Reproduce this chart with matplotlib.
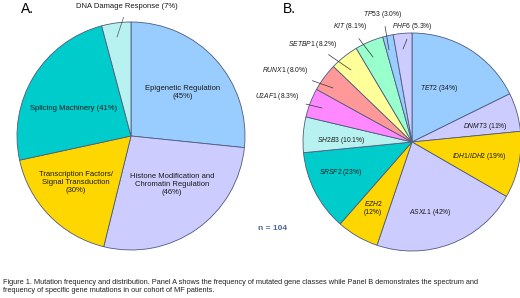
import matplotlib
matplotlib.use("Agg")
import matplotlib.pyplot as plt

plt.rcParams['font.family'] = ['Liberation Sans', 'DejaVu Sans']
plt.rcParams['mathtext.fontset'] = 'custom'
plt.rcParams['mathtext.it'] = 'Liberation Sans:italic'
plt.rcParams['mathtext.rm'] = 'Liberation Sans'

# Panel A: gene classes (number of patients)
class_names = ['Epigenetic Regulation\n(45%)',
               'Histone Modification and\nChromatin Regulation\n(46%)',
               'Transcription Factors/\nSignal Transduction\n(30%)',
               'Splicing Machinery (41%)',
               'DNA Damage Response (7%)']
class_values = [45, 46, 30, 41, 7]
class_colors = ['#99CCFF', '#CCCCFF', '#FFD700', '#00CCCC', '#B8F2F0']

# Panel B: individual genes
gene_names = ['TET2', 'DNMT3', 'IDH1/IDH2', 'ASXL1', 'EZH2', 'SRSF2', 'SH2B3',
              'U2AF1', 'RUNX1', 'SETBP1', 'KIT', 'TP53', 'PHF6']
gene_values = [34, 11, 19, 42, 12, 23, 10.1, 8.3, 8.0, 8.2, 8.1, 3.0, 5.3]
gene_pct = ['34%', '11%', '19%', '42%', '12%', '23%', '10.1%',
            '8.3%', '8.0%', '8.2%', '8.1%', '3.0%', '5.3%']
gene_colors = ['#99CCFF', '#CCCCFF', '#FFD700', '#CCCCFF', '#FFD700', '#00CCCC',
               '#B8F2F0', '#FF88FF', '#FF9999', '#FFFF99', '#99FFCC', '#99CCFF',
               '#CCCCFF']

W, H = 520, 298
fig = plt.figure(figsize=(W / 100, H / 100), dpi=100)


def px_axes(cx, cy, r):
    return fig.add_axes([(cx - r) / W, (H - cy - r) / H, 2 * r / W, 2 * r / H])


def to_ax(cx, cy, r, x, y):
    return (x - cx) / r, (cy - y) / r


edge = dict(edgecolor='#4F5A7C', linewidth=0.6)
fsA = 5.5
fsB = 4.9

# ---- Panel A ----
cxA, cyA, rA = 131, 136, 114
axA = px_axes(cxA, cyA, rA)
axA.pie(class_values, colors=class_colors, startangle=90, counterclock=False,
        radius=1, wedgeprops=edge)
axA.set_xlim(-1, 1)
axA.set_ylim(-1, 1)
axA.axis('off')

a_pos = [(183, 93), (172, 184), (76, 183), (74, 109)]
for name, (x, y) in zip(class_names[:4], a_pos):
    axA.text(*to_ax(cxA, cyA, rA, x, y), name, ha='center', va='center',
             fontsize=fsA, color='#1a1a1a', linespacing=1.2)
axA.annotate(class_names[4], xy=to_ax(cxA, cyA, rA, 117, 37),
             xytext=to_ax(cxA, cyA, rA, 127, 7), ha='center', va='center',
             fontsize=fsA, color='#1a1a1a', annotation_clip=False,
             arrowprops=dict(arrowstyle='-', color='#555555', lw=0.5,
                             shrinkA=3, shrinkB=0))

# ---- Panel B ----
cxB, cyB, rB = 412, 142, 109
axB = px_axes(cxB, cyB, rB)
axB.pie(gene_values, colors=gene_colors, startangle=90, counterclock=False,
        radius=1, wedgeprops=edge)
axB.set_xlim(-1, 1)
axB.set_ylim(-1, 1)
axB.axis('off')


def glabel(i):
    return r'$\mathit{' + gene_names[i] + '}$ (' + gene_pct[i] + ')'

inside = {0: (439, 89), 1: (485, 127), 2: (479, 157), 3: (430, 212),
          5: (341, 173), 6: (341, 140)}
for i, (x, y) in inside.items():
    axB.text(*to_ax(cxB, cyB, rB, x, y), glabel(i), ha='center', va='center',
             fontsize=fsB, color='#1a1a1a')
axB.text(*to_ax(cxB, cyB, rB, 373, 208),
         r'$\mathit{' + gene_names[4] + '}$\n(' + gene_pct[4] + ')',
         ha='center', va='center', fontsize=fsB, color='#1a1a1a')

outside = {7: ((277, 97), (322, 108)), 8: ((285, 71), (333, 88)),
           9: ((313, 44), (351, 70)), 10: ((350, 27), (373, 57)),
           11: ((383, 14), (389, 50)), 12: ((412, 27), (403, 49))}
for i, (txt, pt) in outside.items():
    axB.annotate(glabel(i), xy=to_ax(cxB, cyB, rB, *pt),
                 xytext=to_ax(cxB, cyB, rB, *txt), ha='center', va='center',
                 fontsize=fsB, color='#1a1a1a', annotation_clip=False,
                 arrowprops=dict(arrowstyle='-', color='#333333', lw=0.5,
                                 shrinkA=3, shrinkB=0))

# panel letters, n and caption
fig.text(27 / W, 1 - 9 / H, 'A.', fontsize=10, ha='center', va='center')
fig.text(289 / W, 1 - 9 / H, 'B.', fontsize=10, ha='center', va='center')
fig.text(273 / W, 1 - 228 / H, 'n = 104', fontsize=6, fontweight='bold',
         color='#4E6A94', ha='center', va='center')
fig.text(3 / W, 1 - 287 / H,
         'Figure 1. Mutation frequency and distribution. Panel A shows the frequency of mutated '
         'gene classes while Panel B demonstrates the spectrum and\n'
         'frequency of specific gene mutations in our cohort of MF patients.',
         fontsize=5.3, ha='left', va='center', color='#222222', linespacing=1.2)

fig.savefig('out.png', dpi=100)
